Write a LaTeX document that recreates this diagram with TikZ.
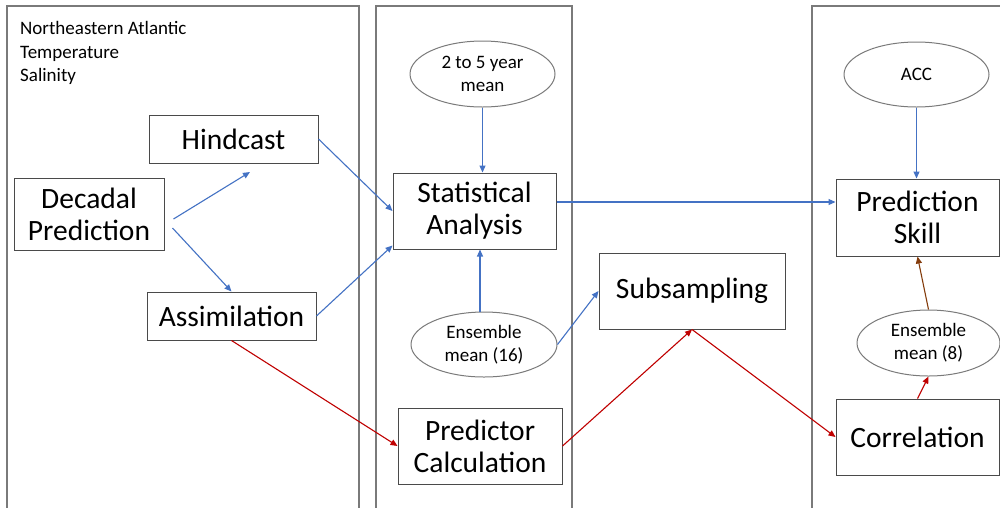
\documentclass[tikz,border=0pt]{standalone}
\usepackage{fontspec}
\setmainfont{Carlito}
\usetikzlibrary{arrows.meta,shapes.geometric}
\definecolor{flowblue}{HTML}{4472C4}
\definecolor{flowred}{HTML}{C00000}
\definecolor{flowbrown}{HTML}{843C0C}
\definecolor{panelgray}{HTML}{7A7A7A}
\definecolor{boxgray}{HTML}{4A4A4A}
\begin{document}
\begin{tikzpicture}[x=1pt,y=-1pt,
  panel/.style={draw=panelgray,line width=1.2pt},
  stepbox/.style={draw=boxgray,line width=1pt,fill=white,inner sep=0pt,align=center,
    font=\fontsize{29.5}{32}\selectfont},
  oval/.style={ellipse,draw=panelgray,line width=1pt,fill=white,inner sep=0pt,align=center,
    font=\fontsize{19}{23}\selectfont},
  link/.style={line width=1.1pt,-{Triangle[length=7pt,width=6pt]}},
  bluelink/.style={link,draw=flowblue,color=flowblue},
  redlink/.style={link,draw=flowred,color=flowred},
  brownlink/.style={link,draw=flowbrown,color=flowbrown},
]
\clip (0,0) rectangle (1000,507);
\fill[white] (0,0) rectangle (1000,507);

% three stage panels
\draw[panel] (7,6) rectangle (359,540);
\draw[panel] (376,6) rectangle (572,540);
\draw[panel] (812,6) rectangle (1020,540);

% heading of the first panel
\node[anchor=north west,inner sep=0pt,align=left,font=\fontsize{19}{23.5}\selectfont]
  (region) at (20,21.5) {Northeastern Atlantic\\Temperature\\Salinity};

% process boxes
\node[stepbox,minimum width=150pt,minimum height=72pt] (dec) at (89,214) {Decadal\\Prediction};
\node[stepbox,minimum width=169pt,minimum height=48pt] (hind) at (233.5,139) {Hindcast};
\node[stepbox,minimum width=169pt,minimum height=48pt] (assim) at (231.5,316) {Assimilation};
\node[stepbox,minimum width=163pt,minimum height=76pt] (stat) at (474.5,211) {Statistical\\Analysis};
\node[stepbox,minimum width=164pt,minimum height=76pt] (pred) at (480,446) {Predictor\\Calculation};
\node[stepbox,minimum width=186pt,minimum height=76pt] (subs) at (692,291) {Subsampling};
\node[stepbox,minimum width=163pt,minimum height=77pt] (skill) at (917.5,217.5) {Prediction\\Skill};
\node[stepbox,minimum width=163pt,minimum height=76pt] (corr) at (917.5,437) {Correlation};

% method ovals
\node[oval,minimum width=145pt,minimum height=66pt] (mean) at (482.5,74) {2 to 5 year\\mean};
\node[oval,minimum width=146pt,minimum height=65pt] (ens16) at (484,344.5) {Ensemble\\mean (16)};
\node[oval,minimum width=145pt,minimum height=65pt] (acc) at (916.5,74.5) {ACC};
\node[oval,minimum width=143pt,minimum height=66pt] (ens8) at (928.5,343) {Ensemble\\mean (8)};

% free end of the arrow towards the hindcast
\coordinate (hindin) at (250,172);

% blue flow
\draw[bluelink] ([shift={(9pt,-5pt)}]dec.east) -- (hindin);
\draw[bluelink] ([shift={(8pt,-14pt)}]dec.east) -- (assim.north);
\draw[bluelink] (hind.east) -- (stat.west);
\draw[bluelink] (assim.east) -- ([yshift=4pt]stat.south west);
\draw[bluelink] (mean.south) -- (mean.south |- stat.north);
\draw[bluelink] ([xshift=-4pt]ens16.north) -- ([xshift=-4pt]ens16.north |- stat.south);
\draw[bluelink] (ens16.east) -- (subs.west);
\draw[bluelink] ([yshift=9pt]stat.east) -- ([yshift=9pt]stat.east -| skill.west);
\draw[bluelink] (acc.south) -- (acc.south |- skill.north);

% red flow
\draw[redlink] (assim.south) -- (pred.west);
\draw[redlink] (pred.east) -- (subs.south);
\draw[redlink] (subs.south) -- (corr.west);
\draw[redlink] (corr.north) -- (ens8.south);
\draw[brownlink] (ens8.north) -- (skill.south);
\end{tikzpicture}
\end{document}
